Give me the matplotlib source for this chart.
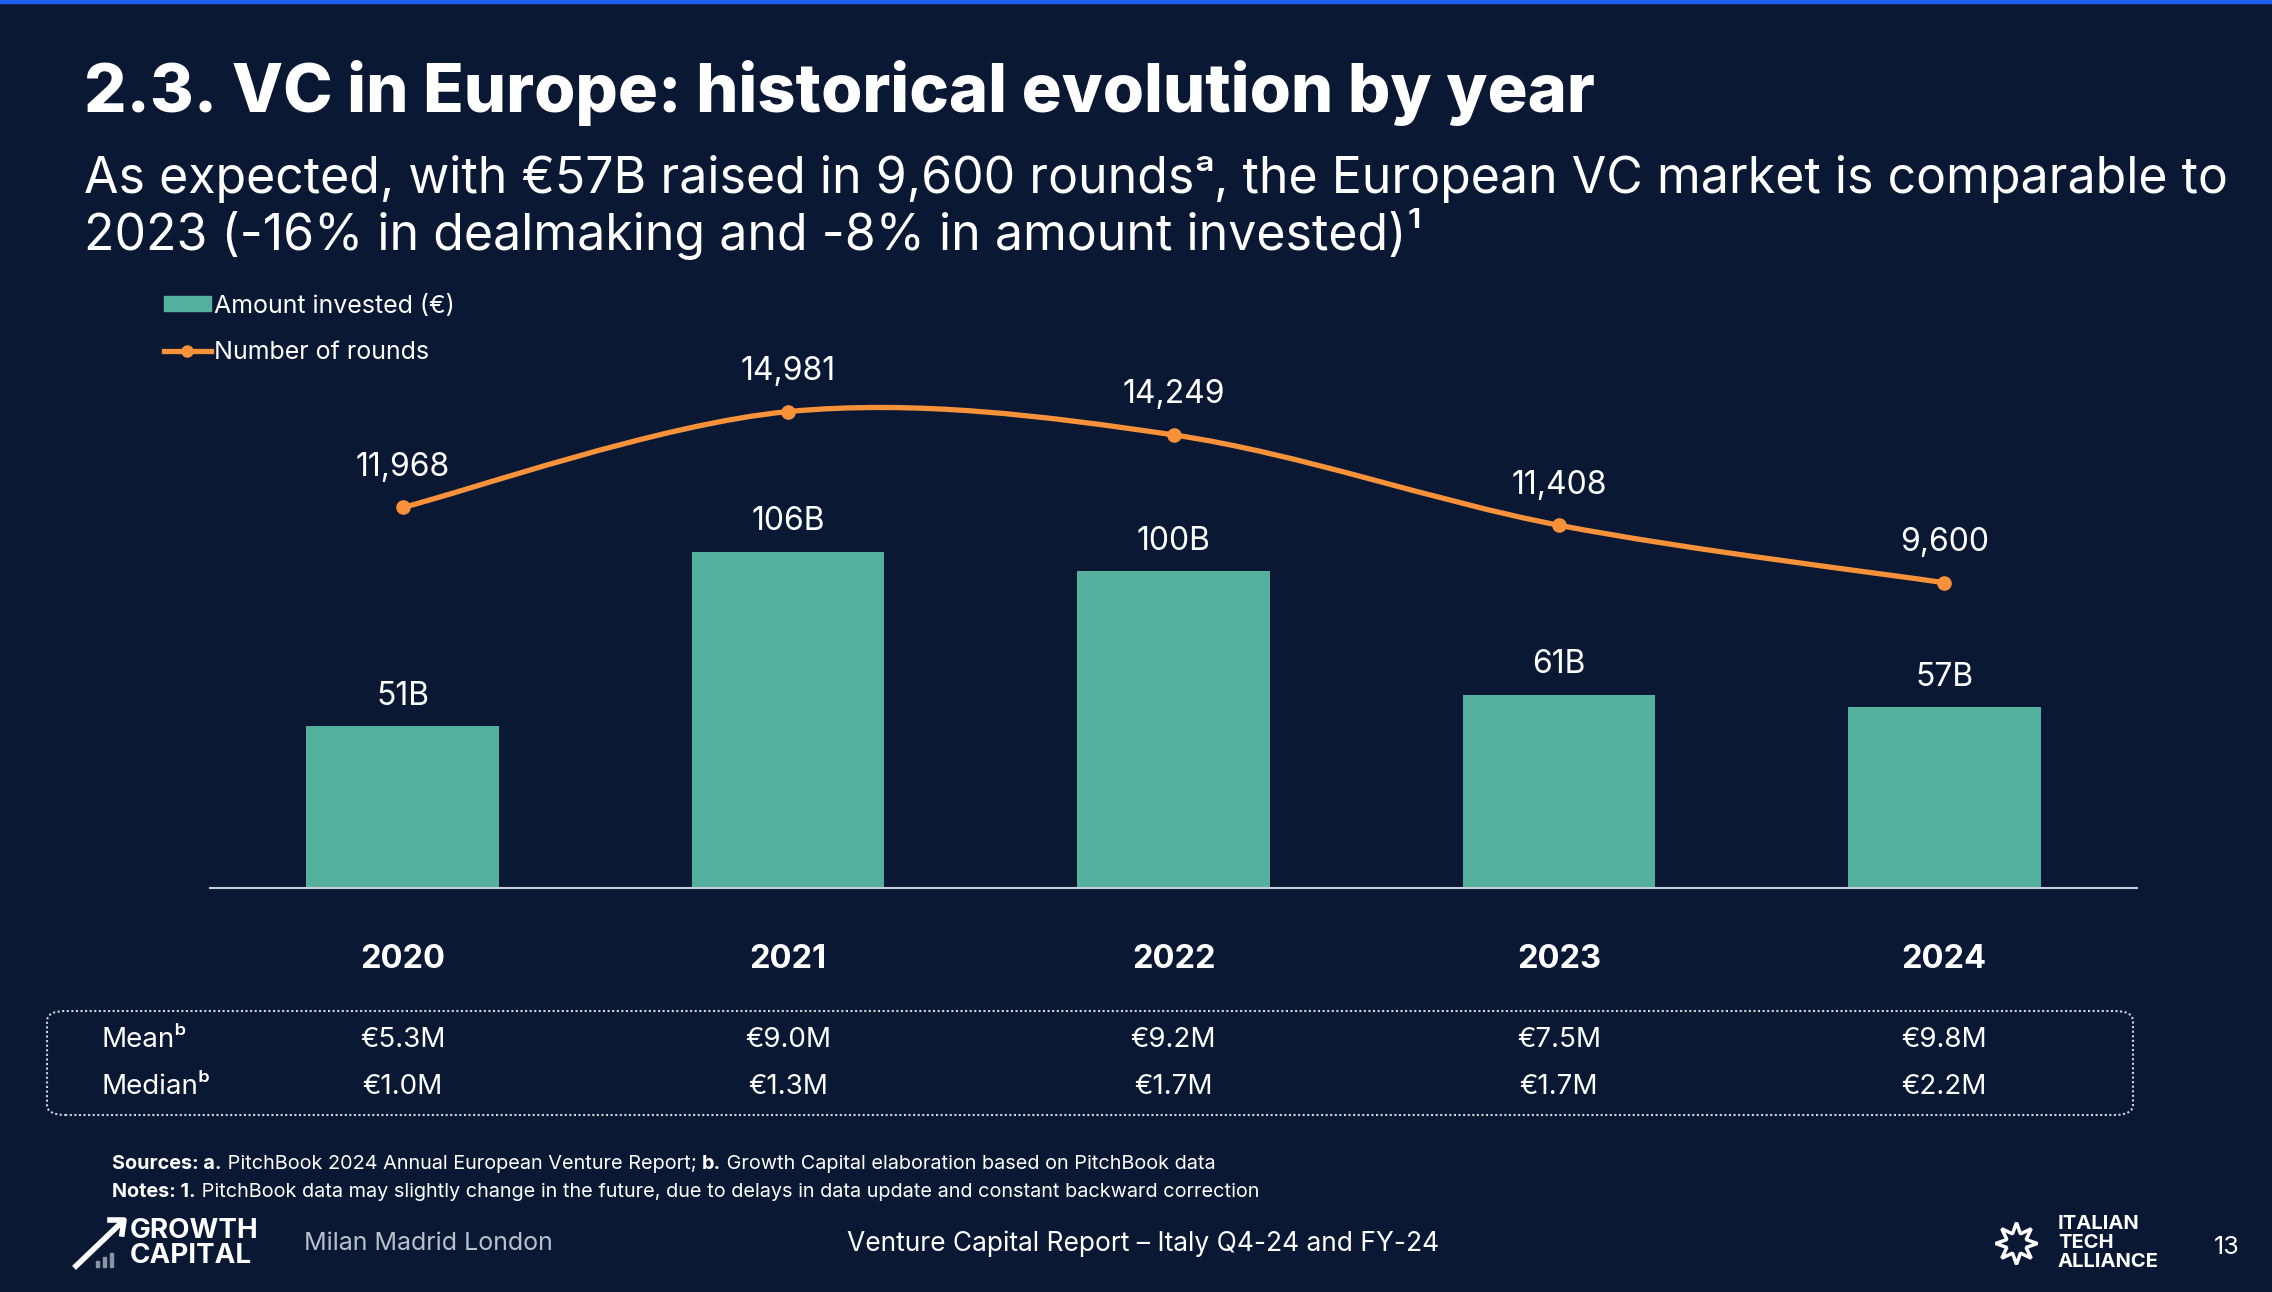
import matplotlib
matplotlib.use("Agg")
import matplotlib.pyplot as plt
from matplotlib.path import Path
from matplotlib.patches import PathPatch, FancyBboxPatch, Rectangle
from matplotlib.lines import Line2D
from matplotlib.transforms import blended_transform_factory

# data
years = ["2020", "2021", "2022", "2023", "2024"]
amount_b = [51, 106, 100, 61, 57]
rounds = [11968, 14981, 14249, 11408, 9600]
mean_m = ["€5.3M", "€9.0M", "€9.2M", "€7.5M", "€9.8M"]
median_m = ["€1.0M", "€1.3M", "€1.7M", "€1.7M", "€2.2M"]

BG = "#0a1834"
TEAL = "#55b09d"
ORANGE = "#f7923a"
GREY = "#b9c0cc"
FONT = ["Inter", "DejaVu Sans"]

W, H = 2272, 1292
fig = plt.figure(figsize=(W / 100, H / 100), dpi=100, facecolor=BG)


def fx(px):
    return px / W


def fy(py):
    return 1 - py / H


# thin blue strip on top of the slide
fig.patches.append(Rectangle((0, fy(3)), 1, 3 / H, transform=fig.transFigure,
                             color="#1f5ef2", zorder=0))

# title and subtitle
fig.text(fx(84), fy(93), "2.3. VC in Europe: historical evolution by year",
         fontsize=48, fontweight="heavy", color="white", va="center", family=FONT)
fig.canvas.draw()
rend = fig.canvas.get_renderer()


def runs(x_px, y_px, parts, size, color="white"):
    # write text pieces one after the other on the same line
    x = fx(x_px)
    for txt, weight in parts:
        t = fig.text(x, fy(y_px), txt, fontsize=size, fontweight=weight,
                     color=color, va="baseline", ha="left", family=FONT)
        bb = t.get_window_extent(renderer=rend)
        x = bb.x1 / W
    return x


runs(84, 193, [("As expected, with €57B raised in 9,600 rounds", "normal"),
               ("ᵃ", "normal"),
               (", the European VC market is comparable to", "normal")], 36)
runs(84, 250, [("2023 (-16% in dealmaking and -8% in amount invested)", "normal"),
               ("¹", "normal")], 36)

# main chart
ax = fig.add_axes([fx(210), fy(888), fx(2137) - fx(210), fy(330) - fy(888)])
ax.set_facecolor("none")
x = list(range(len(years)))
ax.bar(x, amount_b, width=0.5, color=TEAL, zorder=2, label="Amount invested (€)")
ax.set_xlim(-0.5, 4.5)
ax.set_ylim(0, 558 / 3.17)
for s in ["top", "left", "right"]:
    ax.spines[s].set_visible(False)
ax.spines["bottom"].set_color("#c8ced8")
ax.spines["bottom"].set_linewidth(1.5)
ax.set_xticks([])
ax.set_yticks([])
for i, v in enumerate(amount_b):
    ax.annotate(f"{v}B", (i, v), xytext=(0, 30), textcoords="offset pixels",
                ha="center", va="center", fontsize=23, color="white", family=FONT)

ax2 = ax.twinx()
ax2.set_ylim(0, 558 / 0.0318)
ax2.set_yticks([])
for s in ax2.spines.values():
    s.set_visible(False)

# smoothed line (catmull-rom as bezier segments)
pts = list(zip(x, rounds))
verts = [pts[0]]
codes = [Path.MOVETO]
for i in range(len(pts) - 1):
    p0 = pts[max(i - 1, 0)]
    p1 = pts[i]
    p2 = pts[i + 1]
    p3 = pts[min(i + 2, len(pts) - 1)]
    c1 = (p1[0] + (p2[0] - p0[0]) / 6, p1[1] + (p2[1] - p0[1]) / 6)
    c2 = (p2[0] - (p3[0] - p1[0]) / 6, p2[1] - (p3[1] - p1[1]) / 6)
    verts += [c1, c2, p2]
    codes += [Path.CURVE4] * 3
ax2.add_patch(PathPatch(Path(verts, codes), fill=False, edgecolor=ORANGE,
                        linewidth=3.8, capstyle="round", zorder=3))
ax2.plot(x, rounds, "o", color=ORANGE, markersize=9.5, zorder=4)
for i, v in enumerate(rounds):
    ax2.annotate(f"{v:,}", (i, v), xytext=(0, 40), textcoords="offset pixels",
                 ha="center", va="center", fontsize=23, color="white", family=FONT)

# legend
handles = [Rectangle((0, 0), 1, 1, color=TEAL),
           Line2D([], [], color=ORANGE, lw=3.8, marker="o", markersize=8)]
fig.legend(handles, ["Amount invested (€)", "Number of rounds"],
           loc="upper left", bbox_to_anchor=(fx(141), fy(272)), frameon=False,
           prop={"family": FONT, "size": 18}, labelcolor="white",
           handlelength=1.9, handleheight=0.55, handletextpad=0.1, labelspacing=0.95)

# year labels and the table below
tr = blended_transform_factory(ax.transData, fig.transFigure)
for i, yr in enumerate(years):
    ax.text(i, fy(959), yr, transform=tr, ha="center", va="center",
            fontsize=23.5, fontweight="bold", color="white", family=FONT)
    ax.text(i, fy(1040), mean_m[i], transform=tr, ha="center", va="center",
            fontsize=20, color="white", family=FONT)
    ax.text(i, fy(1087), median_m[i], transform=tr, ha="center", va="center",
            fontsize=20, color="white", family=FONT)
fig.text(fx(101), fy(1040), "Meanᵇ", fontsize=20, color="white", va="center", family=FONT)
fig.text(fx(101), fy(1087), "Medianᵇ", fontsize=20, color="white", va="center", family=FONT)
fig.patches.append(FancyBboxPatch((fx(47), fy(1115)), fx(2133) - fx(47), fy(1011) - fy(1115),
                                  boxstyle="round,pad=0,rounding_size=0.008",
                                  transform=fig.transFigure, fill=False,
                                  edgecolor="#d0d5de", linewidth=1.5, linestyle=(0, (1, 1.2))))

# footnotes
runs(112, 1169, [("Sources: a.", "bold"),
                 (" PitchBook 2024 Annual European Venture Report; ", "normal"),
                 ("b.", "bold"),
                 (" Growth Capital elaboration based on PitchBook data", "normal")], 14.3)
runs(112, 1197, [("Notes: 1.", "bold"),
                 (" PitchBook data may slightly change in the future, due to delays in data update and constant backward correction", "normal")], 14.3)

# footer: Growth Capital logo
fig.add_artist(Line2D([fx(76), fx(122)], [fy(1266), fy(1222)], color="white", lw=4,
                      transform=fig.transFigure))
fig.add_artist(Line2D([fx(110), fx(124), fx(122)], [fy(1220), fy(1220), fy(1234)],
                      color="white", lw=4, transform=fig.transFigure))
for k, h in enumerate([6, 10, 14]):
    fig.patches.append(Rectangle((fx(96 + k * 7), fy(1267)), 3 / W, h / H,
                                 transform=fig.transFigure, color="#8a93a3"))
fig.text(fx(130), fy(1231), "GROWTH", fontsize=20, fontweight="bold", color="white",
         va="center", family=FONT)
fig.text(fx(130), fy(1256), "CAPITAL", fontsize=20, fontweight="bold", color="white",
         va="center", family=FONT)
fig.text(fx(304), fy(1244), "Milan Madrid London", fontsize=18, color=GREY,
         va="center", family=FONT)
fig.text(fx(1143), fy(1244), "Venture Capital Report – Italy Q4-24 and FY-24",
         fontsize=19, color="white", ha="center", va="center", family=FONT)

# footer: Italian Tech Alliance logo and page number
fig.add_artist(Line2D([fx(2016)], [fy(1243)], marker=(8, 1, 0), markersize=30,
                      markerfacecolor="none", markeredgecolor="white", mew=2.5,
                      transform=fig.transFigure))
for k, w in enumerate(["ITALIAN", "TECH", "ALLIANCE"]):
    fig.text(fx(2058), fy(1224 + k * 19), w, fontsize=14.5, fontweight="bold",
             color="white", va="center", family=FONT)
fig.text(fx(2227), fy(1248), "13", fontsize=18, color="white", ha="center",
         va="center", family=FONT)

fig.savefig("out.png", dpi=100, facecolor=BG)
